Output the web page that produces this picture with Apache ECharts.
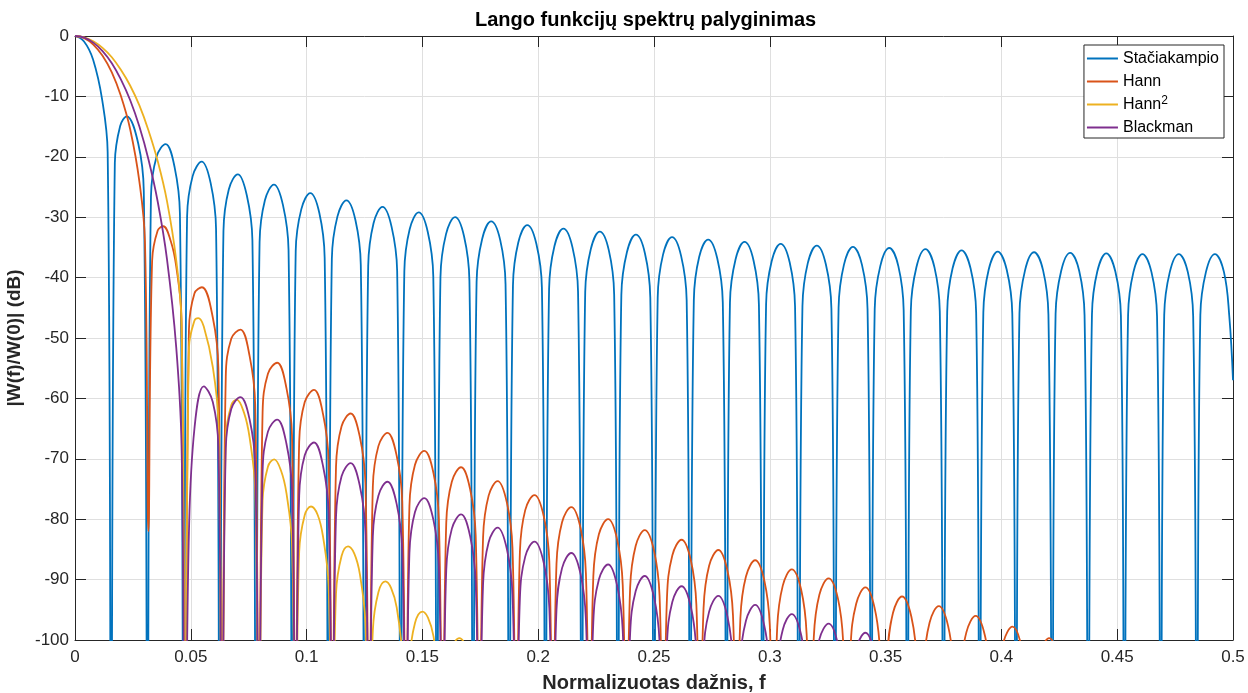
<!DOCTYPE html>
<html>
<head>
<meta charset="utf-8">
<script src="https://cdn.jsdelivr.net/npm/echarts@6/dist/echarts.min.js"></script>
<style>
  html, body { margin: 0; padding: 0; background: #fff; }
  #chart { width: 1248px; height: 693px; }
</style>
</head>
<body>
<div id="chart"></div>
<script>
// values (normalized frequency, dB); nulls sit below the -100 floor
const rectF = [
  0, 0.0039, 0.0078, 0.0117, 0.0141,
  0.0156, 0.0172, 0.0195, 0.0223, 0.0273, 0.0297,
  0.0313, 0.0328, 0.0352, 0.0391, 0.0430, 0.0453,
  0.0469, 0.0484, 0.0508, 0.0547, 0.0586, 0.0609,
  0.0625, 0.0641, 0.0664, 0.0703, 0.0742, 0.0766,
  0.0781, 0.0797, 0.0820, 0.0859, 0.0898, 0.0922,
  0.0938, 0.0953, 0.0977, 0.1016, 0.1055, 0.1078,
  0.1094, 0.1109, 0.1133, 0.1172, 0.1211, 0.1234,
  0.1250, 0.1266, 0.1289, 0.1328, 0.1367, 0.1391,
  0.1406, 0.1422, 0.1445, 0.1484, 0.1523, 0.1547,
  0.1563, 0.1578, 0.1602, 0.1641, 0.1680, 0.1703,
  0.1719, 0.1734, 0.1758, 0.1797, 0.1836, 0.1859,
  0.1875, 0.1891, 0.1914, 0.1953, 0.1992, 0.2016,
  0.2031, 0.2047, 0.2070, 0.2109, 0.2148, 0.2172,
  0.2188, 0.2203, 0.2227, 0.2266, 0.2305, 0.2328,
  0.2344, 0.2359, 0.2383, 0.2422, 0.2461, 0.2484,
  0.2500, 0.2516, 0.2539, 0.2578, 0.2617, 0.2641,
  0.2656, 0.2672, 0.2695, 0.2734, 0.2773, 0.2797,
  0.2813, 0.2828, 0.2852, 0.2891, 0.2930, 0.2953,
  0.2969, 0.2984, 0.3008, 0.3047, 0.3086, 0.3109,
  0.3125, 0.3141, 0.3164, 0.3203, 0.3242, 0.3266,
  0.3281, 0.3297, 0.3320, 0.3359, 0.3398, 0.3422,
  0.3438, 0.3453, 0.3477, 0.3516, 0.3555, 0.3578,
  0.3594, 0.3609, 0.3633, 0.3672, 0.3711, 0.3734,
  0.3750, 0.3766, 0.3789, 0.3828, 0.3867, 0.3891,
  0.3906, 0.3922, 0.3945, 0.3984, 0.4023, 0.4047,
  0.4063, 0.4078, 0.4102, 0.4141, 0.4180, 0.4203,
  0.4219, 0.4234, 0.4258, 0.4297, 0.4336, 0.4359,
  0.4375, 0.4391, 0.4414, 0.4453, 0.4492, 0.4516,
  0.4531, 0.4547, 0.4570, 0.4609, 0.4648, 0.4672,
  0.4688, 0.4703, 0.4727, 0.4766, 0.4805, 0.4828,
  0.4844, 0.4859, 0.4883, 0.4922, 0.4961, 0.4984,
  0.5
];
const rectDb = [
  0, -0.9, -3.9, -10.5, -19.2,
  -120, -21.0, -14.9, -13.3, -17.8, -25.7,
  -120, -26.6, -20.0, -17.9, -21.7, -29.4,
  -120, -29.9, -23.2, -20.8, -24.4, -31.9,
  -120, -32.3, -25.4, -22.9, -26.4, -33.8,
  -120, -34.1, -27.2, -24.6, -28.0, -35.4,
  -120, -35.6, -28.7, -26.0, -29.3, -36.7,
  -120, -36.9, -29.9, -27.2, -30.5, -37.9,
  -120, -38.1, -31.0, -28.3, -31.6, -38.9,
  -120, -39.0, -32.0, -29.2, -32.4, -39.8,
  -120, -39.9, -32.8, -30.0, -33.2, -40.5,
  -120, -40.7, -33.6, -30.7, -33.8, -41.1,
  -120, -41.3, -34.2, -31.3, -34.4, -41.7,
  -120, -41.9, -34.8, -31.9, -35.0, -42.3,
  -120, -42.4, -35.3, -32.4, -35.5, -42.8,
  -120, -42.9, -35.8, -32.9, -36.0, -43.3,
  -120, -43.3, -36.2, -33.3, -36.4, -43.7,
  -120, -43.7, -36.6, -33.7, -36.8, -44.1,
  -120, -44.1, -37.0, -34.1, -37.2, -44.5,
  -120, -44.4, -37.3, -34.4, -37.5, -44.8,
  -120, -44.7, -37.6, -34.7, -37.8, -45.1,
  -120, -45.0, -37.9, -34.9, -37.9, -45.2,
  -120, -45.2, -38.1, -35.1, -38.1, -45.4,
  -120, -45.4, -38.3, -35.3, -38.3, -45.6,
  -120, -45.6, -38.5, -35.5, -38.5, -45.8,
  -120, -45.8, -38.7, -35.7, -38.7, -46.0,
  -120, -45.9, -38.8, -35.8, -38.8, -46.1,
  -120, -46.0, -38.9, -35.9, -38.9, -46.2,
  -120, -46.1, -39.0, -36.0, -39.0, -46.3,
  -120, -46.2, -39.1, -36.1, -39.1, -46.4,
  -120, -46.2, -39.1, -36.1, -39.1, -46.4,
  -120, -46.2, -39.1, -36.1, -39.1, -46.4,
  -57
];

const hannF = [
  0, 0.0040, 0.0079, 0.0119, 0.0159, 0.0198, 0.0238, 0.0278, 0.0302,
  0.0317, 0.0333, 0.0357, 0.0381, 0.0413, 0.0437, 0.0460,
  0.0476, 0.0492, 0.0516, 0.0548, 0.0595, 0.0619,
  0.0635, 0.0651, 0.0675, 0.0714, 0.0754, 0.0778,
  0.0794, 0.0810, 0.0833, 0.0873, 0.0913, 0.0937,
  0.0952, 0.0968, 0.0992, 0.1032, 0.1071, 0.1095,
  0.1111, 0.1127, 0.1151, 0.1190, 0.1230, 0.1254,
  0.1270, 0.1286, 0.1310, 0.1349, 0.1389, 0.1413,
  0.1429, 0.1444, 0.1468, 0.1508, 0.1548, 0.1571,
  0.1587, 0.1603, 0.1627, 0.1667, 0.1706, 0.1730,
  0.1746, 0.1762, 0.1786, 0.1825, 0.1865, 0.1889,
  0.1905, 0.1921, 0.1944, 0.1984, 0.2024, 0.2048,
  0.2063, 0.2079, 0.2103, 0.2143, 0.2183, 0.2206,
  0.2222, 0.2238, 0.2262, 0.2302, 0.2341, 0.2365,
  0.2381, 0.2397, 0.2421, 0.2460, 0.2500, 0.2524,
  0.2540, 0.2556, 0.2579, 0.2619, 0.2659, 0.2683,
  0.2698, 0.2714, 0.2738, 0.2778, 0.2817, 0.2841,
  0.2857, 0.2873, 0.2897, 0.2937, 0.2976, 0.3000,
  0.3016, 0.3032, 0.3056, 0.3095, 0.3135, 0.3159,
  0.3175, 0.3190, 0.3214, 0.3254, 0.3294, 0.3317,
  0.3333, 0.3349, 0.3373, 0.3413, 0.3452, 0.3476,
  0.3492, 0.3508, 0.3532, 0.3571, 0.3611, 0.3635,
  0.3651, 0.3667, 0.3690, 0.3730, 0.3770, 0.3794,
  0.3810, 0.3825, 0.3849, 0.3889, 0.3929, 0.3952,
  0.3968, 0.3984, 0.4008, 0.4048, 0.4087, 0.4111,
  0.4127, 0.4143, 0.4167, 0.4206, 0.4246, 0.4270,
  0.4286
];
const hannDb = [
  0, -0.35, -1.42, -3.27, -6.02, -9.9, -15.4, -24.1, -34.0,
  -82.0, -37.2, -32.2, -31.5, -33.9, -38.1, -46.8,
  -125, -48.6, -42.6, -41.6, -46.6, -54.9,
  -125, -56.4, -50.1, -48.6, -53.0, -61.0,
  -125, -62.3, -55.9, -54.1, -58.3, -66.1,
  -125, -67.2, -60.6, -58.6, -62.6, -70.4,
  -125, -71.3, -64.6, -62.5, -66.4, -74.1,
  -125, -74.6, -67.9, -65.7, -69.5, -77.1,
  -125, -77.8, -71.0, -68.7, -72.4, -80.0,
  -125, -80.6, -73.8, -71.4, -75.0, -82.6,
  -125, -83.0, -76.1, -73.7, -77.3, -84.8,
  -125, -85.4, -78.5, -76.0, -79.5, -87.0,
  -125, -87.4, -80.5, -78.0, -81.5, -89.0,
  -125, -89.5, -82.5, -80.0, -83.4, -90.9,
  -125, -91.3, -84.4, -81.8, -85.2, -92.7,
  -125, -93.0, -86.0, -83.4, -86.8, -94.2,
  -125, -94.7, -87.7, -85.1, -88.5, -95.9,
  -125, -96.4, -89.5, -86.8, -90.1, -97.6,
  -125, -97.9, -91.0, -88.3, -91.6, -99.0,
  -125, -99.5, -92.5, -89.8, -93.1, -100.5,
  -125, -101.0, -94.0, -91.3, -94.6, -102.0,
  -125, -102.5, -95.5, -92.8, -96.1, -103.5,
  -125, -104.1, -97.1, -94.4, -97.7, -105.0,
  -125, -105.7, -98.7, -96.0, -99.3, -106.6,
  -125, -107.5, -100.5, -97.8, -101.1, -108.4,
  -125, -109.4, -102.4, -99.7, -103.0, -110.3,
  -125
];

const hann2F = [
  0, 0.0040, 0.0079, 0.0119, 0.0159, 0.0198, 0.0238, 0.0278, 0.0317, 0.0357, 0.0397, 0.0437, 0.0460,
  0.0476, 0.0492, 0.0516, 0.0532, 0.0556, 0.0595, 0.0619,
  0.0635, 0.0651, 0.0675, 0.0698, 0.0730, 0.0754, 0.0778,
  0.0794, 0.0810, 0.0833, 0.0860, 0.0889, 0.0913, 0.0937,
  0.0952, 0.0968, 0.0992, 0.1019, 0.1048, 0.1071, 0.1095,
  0.1111, 0.1127, 0.1151, 0.1179, 0.1206, 0.1230, 0.1254,
  0.1270, 0.1286, 0.1310, 0.1340, 0.1365, 0.1389, 0.1413,
  0.1429, 0.1444, 0.1468, 0.1500, 0.1524, 0.1548, 0.1571,
  0.1587, 0.1603, 0.1627, 0.1660, 0.1683, 0.1706, 0.1730,
  0.1746
];
const hann2Db = [
  0, -0.22, -0.86, -1.96, -3.52, -5.6, -8.2, -11.5, -15.6, -20.7, -27.3, -37.1, -47.6,
  -125, -51.6, -47.1, -46.7, -48.1, -54.8, -64.0,
  -125, -66.5, -61.1, -60.2, -62.4, -66.5, -75.2,
  -125, -77.0, -71.3, -70.1, -71.9, -75.7, -84.1,
  -125, -85.4, -79.3, -77.9, -79.3, -82.9, -91.0,
  -125, -92.3, -86.1, -84.5, -85.7, -89.1, -97.1,
  -125, -98.4, -92.1, -90.3, -91.4, -94.6, -102.6,
  -125, -103.6, -97.2, -95.3, -96.3, -99.4, -107.4,
  -125, -108.2, -101.7, -99.7, -100.7, -103.7, -111.6,
  -125
];

const blackF = [
  0, 0.0040, 0.0079, 0.0119, 0.0159, 0.0198, 0.0238, 0.0278, 0.0317, 0.0357, 0.0397, 0.0437, 0.0460,
  0.0476, 0.0492, 0.0516, 0.0556, 0.0595, 0.0619,
  0.0635, 0.0651, 0.0675, 0.0714, 0.0754, 0.0778,
  0.0794, 0.0810, 0.0833, 0.0873, 0.0913, 0.0937,
  0.0952, 0.0968, 0.0992, 0.1032, 0.1071, 0.1095,
  0.1111, 0.1127, 0.1151, 0.1190, 0.1230, 0.1254,
  0.1270, 0.1286, 0.1310, 0.1349, 0.1389, 0.1413,
  0.1429, 0.1444, 0.1468, 0.1508, 0.1548, 0.1571,
  0.1587, 0.1603, 0.1627, 0.1667, 0.1706, 0.1730,
  0.1746, 0.1762, 0.1786, 0.1825, 0.1865, 0.1889,
  0.1905, 0.1921, 0.1944, 0.1984, 0.2024, 0.2048,
  0.2063, 0.2079, 0.2103, 0.2143, 0.2183, 0.2206,
  0.2222, 0.2238, 0.2262, 0.2302, 0.2341, 0.2365,
  0.2381, 0.2397, 0.2421, 0.2460, 0.2500, 0.2524,
  0.2540, 0.2556, 0.2579, 0.2619, 0.2659, 0.2683,
  0.2698, 0.2714, 0.2738, 0.2778, 0.2817, 0.2841,
  0.2857, 0.2873, 0.2897, 0.2937, 0.2976, 0.3000,
  0.3016, 0.3032, 0.3056, 0.3095, 0.3135, 0.3159,
  0.3175, 0.3190, 0.3214, 0.3254, 0.3294, 0.3317,
  0.3333, 0.3349, 0.3373, 0.3413, 0.3452, 0.3476,
  0.3492
];
const blackDb = [
  0, -0.27, -1.10, -2.50, -4.51, -7.18, -10.6, -15.0, -20.4, -27.4, -36.9, -51.5, -67.7,
  -125, -82.1, -64.9, -58.0, -60.6, -68.0,
  -125, -68.3, -61.7, -59.8, -63.5, -71.1,
  -125, -72.2, -65.5, -63.5, -67.5, -75.2,
  -125, -76.1, -69.4, -67.3, -71.2, -78.9,
  -125, -79.6, -72.9, -70.7, -74.5, -82.2,
  -125, -82.8, -76.1, -73.8, -77.5, -85.2,
  -125, -85.6, -78.8, -76.5, -80.2, -87.8,
  -125, -88.4, -81.6, -79.2, -82.8, -90.4,
  -125, -90.7, -83.8, -81.4, -85.0, -92.5,
  -125, -93.1, -86.2, -83.7, -87.2, -94.7,
  -125, -95.0, -88.1, -85.6, -89.1, -96.6,
  -125, -97.0, -90.0, -87.5, -91.0, -98.5,
  -125, -98.9, -91.9, -89.4, -92.9, -100.3,
  -125, -100.6, -93.7, -91.1, -94.5, -102.0,
  -125, -102.3, -95.3, -92.7, -96.1, -103.5,
  -125, -103.8, -96.8, -94.2, -97.6, -105.0,
  -125, -105.3, -98.3, -95.7, -99.1, -106.5,
  -125, -106.9, -99.9, -97.3, -100.7, -108.1,
  -125, -108.4, -101.5, -98.8, -102.2, -109.6,
  -125
];

const seriesNames = ['Stačiakampio', 'Hann', 'Hann²', 'Blackman'];
const seriesColors = ['#0072BD', '#D95319', '#EDB120', '#7E2F8E'];
const seriesF = [rectF, hannF, hann2F, blackF];
const seriesDb = [rectDb, hannDb, hann2Db, blackDb];

const font = '"Liberation Sans", Arial, Helvetica, sans-serif';
const axisColor = '#262626';

const chart = echarts.init(document.getElementById('chart'));

// top / right copies of the axes only close the box (MATLAB style)
const boxAxis = {
  type: 'value',
  axisLine: { show: true, onZero: false, lineStyle: { color: axisColor, width: 1 } },
  axisTick: { show: true, inside: true, length: 11, lineStyle: { color: axisColor } },
  axisLabel: { show: false },
  splitLine: { show: false }
};

chart.setOption({
  animation: false,
  backgroundColor: '#fff',
  title: {
    text: 'Lango funkcijų spektrų palyginimas',
    left: 470,
    top: 5,
    textStyle: { color: '#000', fontSize: 20, fontWeight: 'bold', fontFamily: font }
  },
  legend: {
    orient: 'vertical',
    right: 24,
    top: 45,
    backgroundColor: '#fff',
    borderColor: axisColor,
    borderWidth: 1,
    borderRadius: 0,
    padding: [4, 5, 1, 3],
    icon: 'rect',
    itemWidth: 31,
    itemHeight: 2,
    itemGap: 4,
    data: seriesNames,
    formatter: n => (n === 'Hann²' ? 'Hann{sup|2}' : n),
    textStyle: {
      color: '#000',
      fontSize: 16,
      lineHeight: 19,
      fontFamily: font,
      rich: { sup: { fontSize: 12, fontFamily: font, color: '#000', verticalAlign: 'top', lineHeight: 12 } }
    }
  },
  grid: { left: 75, right: 15, top: 36, bottom: 53, containLabel: false, outerBoundsMode: 'none' },
  xAxis: [
    {
      type: 'value',
      min: 0,
      max: 0.5,
      interval: 0.05,
      position: 'bottom',
      name: 'Normalizuotas dažnis, f',
      nameLocation: 'middle',
      nameGap: 33,
      nameTextStyle: { color: axisColor, fontSize: 20, fontWeight: 'bold', fontFamily: font },
      axisLine: { show: true, onZero: false, lineStyle: { color: axisColor, width: 1 } },
      axisTick: { show: true, inside: true, length: 11, lineStyle: { color: axisColor } },
      axisLabel: { color: axisColor, fontSize: 17, fontFamily: font, margin: 9 },
      splitLine: { show: true, lineStyle: { color: '#dfdfdf', width: 1 } }
    },
    Object.assign({}, boxAxis, { min: 0, max: 0.5, interval: 0.05, position: 'top' })
  ],
  yAxis: [
    {
      type: 'value',
      min: -100,
      max: 0,
      interval: 10,
      position: 'left',
      name: '|W(f)/W(0)| (dB)',
      nameLocation: 'middle',
      nameRotate: 90,
      nameGap: 46,
      nameTextStyle: { color: axisColor, fontSize: 19, fontWeight: 'bold', fontFamily: font },
      axisLine: { show: true, onZero: false, lineStyle: { color: axisColor, width: 1 } },
      axisTick: { show: true, inside: true, length: 11, lineStyle: { color: axisColor } },
      axisLabel: { color: axisColor, fontSize: 17, fontFamily: font, margin: 6 },
      splitLine: { show: true, lineStyle: { color: '#dfdfdf', width: 1 } }
    },
    Object.assign({}, boxAxis, { min: -100, max: 0, interval: 10, position: 'right' })
  ],
  series: seriesNames.map((name, i) => ({
    name: name,
    type: 'line',
    xAxisIndex: 0,
    yAxisIndex: 0,
    data: seriesF[i].map((f, j) => [f, seriesDb[i][j]]),
    symbol: 'none',
    showSymbol: false,
    smooth: 0.4,
    clip: true,
    lineStyle: { color: seriesColors[i], width: 1.8 },
    itemStyle: { color: seriesColors[i] },
    emphasis: { disabled: true }
  }))
});
</script>
</body>
</html>
